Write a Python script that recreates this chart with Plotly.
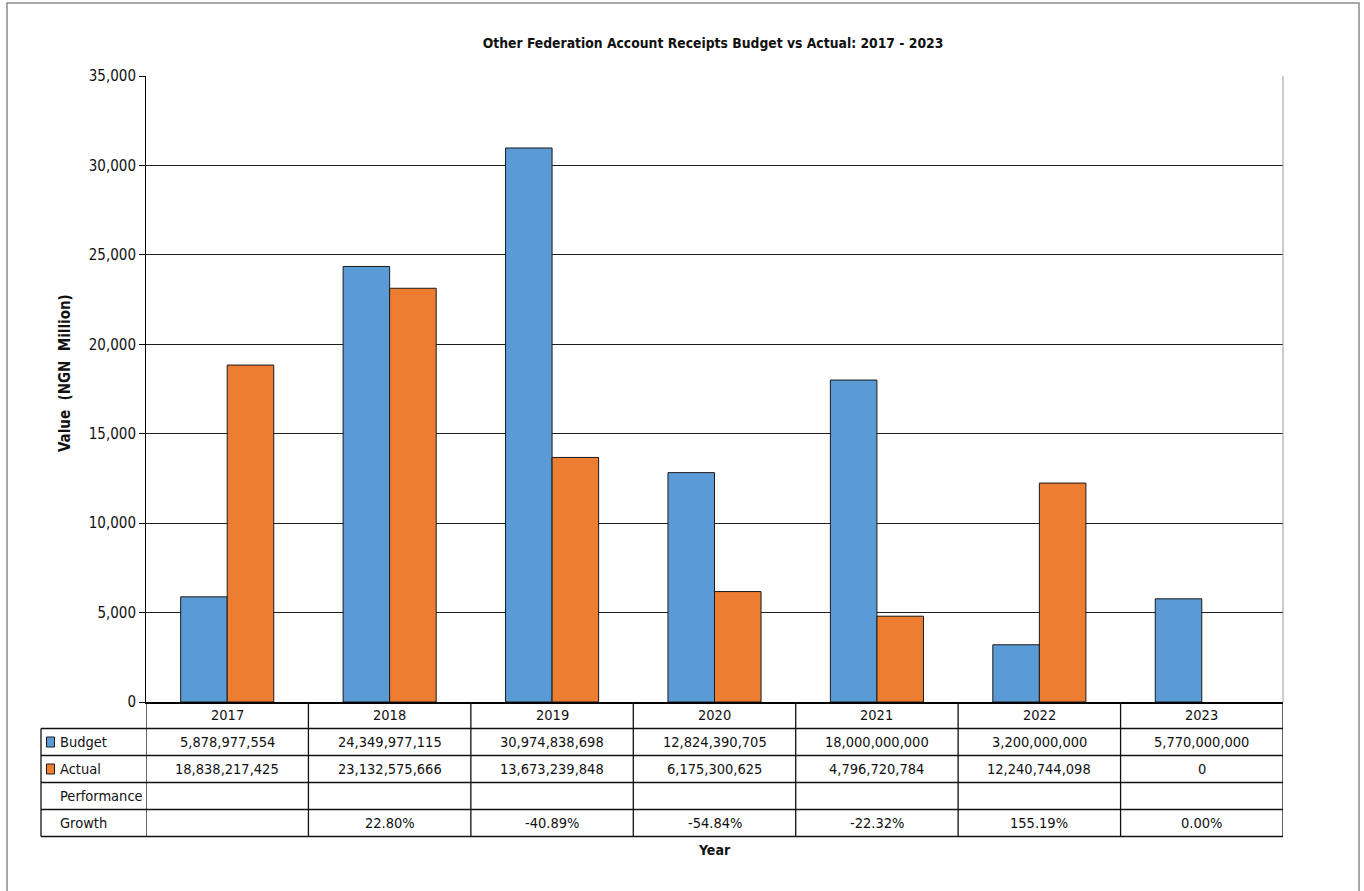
import plotly.graph_objects as go

# ---- data -------------------------------------------------------------
years = ["2017", "2018", "2019", "2020", "2021", "2022", "2023"]
budget_ngn = [5878977554, 24349977115, 30974838698, 12824390705,
              18000000000, 3200000000, 5770000000]
actual_ngn = [18838217425, 23132575666, 13673239848, 6175300625,
              4796720784, 12240744098, 0]
performance = ["", "", "", "", "", "", ""]
growth = ["", "22.80%", "-40.89%", "-54.84%", "-22.32%", "155.19%", "0.00%"]

y_ticks = [0, 5000, 10000, 15000, 20000, 25000, 30000, 35000]

title_text = "Other Federation Account Receipts Budget vs Actual: 2017 - 2023"
y_title = "Value  (NGN  Million)"
x_title = "Year"

# ---- style ------------------------------------------------------------
FONT = "DejaVu Sans Condensed, DejaVu Sans, sans-serif"
BLUE = "#5B9BD5"
ORANGE = "#ED7D31"
W, H = 1364, 891
L, R, T, B = 146, 81, 76, 189
PLOT_W = W - L - R
PLOT_H = H - T - B
ROW_H = 27.0
HEAD_H = 26.5


def px_y(py):
    """pixel row -> paper y"""
    return (H - B - py) / PLOT_H


def px_x(px):
    """pixel column -> paper x"""
    return (px - L) / PLOT_W


to_millions = lambda v: v / 1e6
edge_w = lambda vals: [1 if v else 0 for v in vals]

fig = go.Figure()
fig.add_trace(go.Bar(
    x=years, y=[to_millions(v) for v in budget_ngn], name="Budget",
    marker=dict(color=BLUE, line=dict(color="#1a1a1a", width=edge_w(budget_ngn))),
    hoverinfo="x+y",
))
fig.add_trace(go.Bar(
    x=years, y=[to_millions(v) for v in actual_ngn], name="Actual",
    marker=dict(color=ORANGE, line=dict(color="#1a1a1a", width=edge_w(actual_ngn))),
    hoverinfo="x+y",
))

shapes = []
annotations = []
n = len(years)
axis_px = H - B
row_edges = [axis_px, axis_px + HEAD_H]
for _ in range(4):
    row_edges.append(row_edges[-1] + ROW_H)
table_bottom = row_edges[-1]
label_left = 41
line = dict(color="#111111", width=1.3)

# horizontal rules of the data table
for edge in row_edges[1:]:
    shapes.append(dict(type="line", xref="paper", yref="paper",
                       x0=px_x(label_left), x1=1, y0=px_y(edge), y1=px_y(edge),
                       line=line))
# vertical rules between categories
for k in range(n + 1):
    shapes.append(dict(type="line", xref="x", yref="paper",
                       x0=k - 0.5, x1=k - 0.5,
                       y0=px_y(axis_px), y1=px_y(table_bottom), line=line))
# left edge of the row-label column
shapes.append(dict(type="line", xref="paper", yref="paper",
                   x0=px_x(label_left), x1=px_x(label_left),
                   y0=px_y(row_edges[1]), y1=px_y(table_bottom), line=line))
# right edge of the plot area
shapes.append(dict(type="line", xref="paper", yref="paper", x0=1, x1=1,
                   y0=0, y1=1, line=dict(color="#9a9a9a", width=1)))
# outer chart frame
shapes.append(dict(type="rect", xref="paper", yref="paper",
                   x0=px_x(7), x1=px_x(1359), y0=px_y(940), y1=px_y(3),
                   line=dict(color="#8c8c8c", width=1.5)))

cell_font = dict(family=FONT, size=14.5, color="#111111")


def row_mid(i):
    return px_y((row_edges[i] + row_edges[i + 1]) / 2)


rows = [
    (None, years),
    ("Budget", [f"{v:,}" for v in budget_ngn]),
    ("Actual", [f"{v:,}" for v in actual_ngn]),
    ("Performance", performance),
    ("Growth", growth),
]
for i, (label, cells) in enumerate(rows):
    ym = row_mid(i)
    for k, txt in enumerate(cells):
        if txt:
            annotations.append(dict(x=k, y=ym, xref="x", yref="paper",
                                    text=txt, showarrow=False,
                                    font=cell_font, xanchor="center",
                                    yanchor="middle"))
    if label:
        annotations.append(dict(x=px_x(58), y=ym, xref="paper", yref="paper",
                                text=label, showarrow=False, font=cell_font,
                                xanchor="left", yanchor="middle"))

# legend keys inside the table
for i, col in ((1, BLUE), (2, ORANGE)):
    ym_px = (row_edges[i] + row_edges[i + 1]) / 2
    shapes.append(dict(type="rect", xref="paper", yref="paper",
                       x0=px_x(46.5), x1=px_x(54.5),
                       y0=px_y(ym_px + 5), y1=px_y(ym_px - 5),
                       fillcolor=col, line=dict(color="#1a1a1a", width=1)))

annotations.append(dict(x=0.5, y=px_y(850), xref="paper", yref="paper",
                        text=f"<b>{x_title}</b>", showarrow=False,
                        font=dict(family=FONT, size=14, color="#111111"),
                        xanchor="center", yanchor="middle"))
annotations.append(dict(x=px_x(65), y=px_y(373), xref="paper", yref="paper",
                        text=f"<b>{y_title}</b>", showarrow=False, textangle=-90,
                        font=dict(family=FONT, size=15, color="#111111"),
                        xanchor="center", yanchor="middle"))

fig.update_layout(
    width=W, height=H,
    margin=dict(l=L, r=R, t=T, b=B),
    paper_bgcolor="white", plot_bgcolor="white",
    title=dict(text=f"<b>{title_text}</b>", x=px_x(713), xref="paper",
               xanchor="center", y=1 - 43 / H, yanchor="middle",
               font=dict(family=FONT, size=13.8, color="#111111")),
    barmode="group", bargap=0.427, bargroupgap=0,
    showlegend=False,
    shapes=shapes, annotations=annotations,
    font=dict(family=FONT, color="#111111"),
)
fig.update_xaxes(showticklabels=False, ticks="", showgrid=False,
                 showline=True, linecolor="#000000", linewidth=2,
                 range=[-0.5, n - 0.5])
fig.update_yaxes(range=[0, 35000], tickvals=y_ticks, tickformat=",",
                 showgrid=True, gridcolor="#1e1e1e", gridwidth=1,
                 showline=True, linecolor="#000000", linewidth=1,
                 ticks="outside", ticklen=6, tickcolor="#000000",
                 tickfont=dict(family=FONT, size=15, color="#111111"),
                 zeroline=False)

fig.write_html("out.html")
